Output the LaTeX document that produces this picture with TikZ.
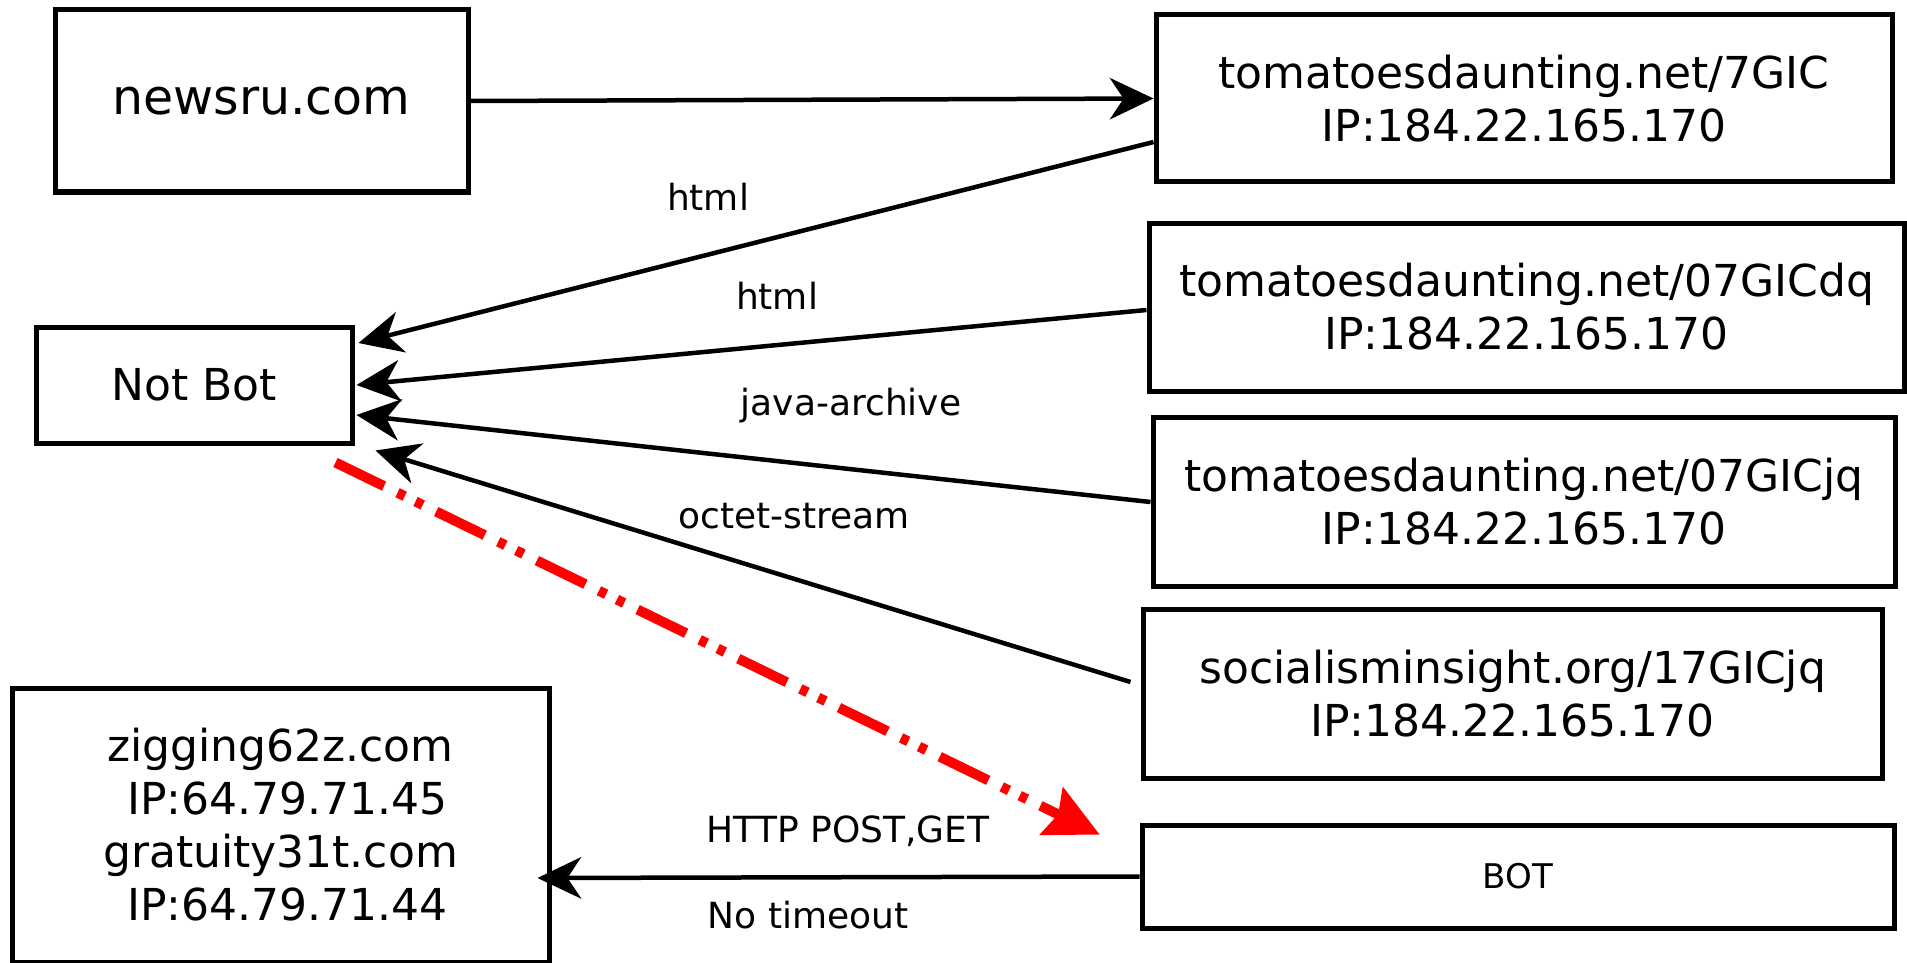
\documentclass[tikz,border=0pt]{standalone}
\usepackage{fontspec}
\setmainfont{DejaVu Sans}
\usetikzlibrary{arrows.meta}
\begin{document}
\begin{tikzpicture}[x=1pt,y=-1pt,
  box/.style={draw, line width=5pt, inner sep=0pt, align=center, font=\fontsize{44}{53}\selectfont},
  lbl/.style={font=\fontsize{36}{43}\selectfont, inner sep=0pt},
  arr/.style={line width=4.5pt, -{Stealth[length=44pt,width=42pt,inset=14pt,line width=0pt]}},
  redarr/.style={draw=red, line width=10pt, dash pattern=on 54pt off 15pt on 8pt off 12pt on 8pt off 15pt, -{Stealth[length=54pt,width=54pt,inset=8pt,line width=0pt]}}]
\useasboundingbox (0,0) rectangle (1907,963);
\node[box, minimum width=413pt, minimum height=182pt, font=\fontsize{49}{58}\selectfont] (newsru) at (261.5,101) {newsru.com};
\node[box, minimum width=736pt, minimum height=167pt] (t1) at (1524,98.5) {tomatoesdaunting.net/7GIC\\IP:184.22.165.170};
\node[box, minimum width=316pt, minimum height=116pt] (notbot) at (194,385) {Not Bot};
\node[box, minimum width=755pt, minimum height=168pt] (t2) at (1526.5,307) {tomatoesdaunting.net/07GICdq\\IP:184.22.165.170};
\node[box, minimum width=742pt, minimum height=169pt] (t3) at (1524,501.5) {tomatoesdaunting.net/07GICjq\\IP:184.22.165.170};
\node[box, minimum width=739pt, minimum height=169pt] (soc) at (1512.5,693.5) {socialisminsight.org/17GICjq\\IP:184.22.165.170};
\node[box, minimum width=537pt, minimum height=274pt] (zig) at (280.5,825) {zigging62z.com\\~IP:64.79.71.45\\gratuity31t.com\\~IP:64.79.71.44};
\node[box, minimum width=752pt, minimum height=103pt, font=\fontsize{34}{41}\selectfont] (bot) at (1518,876.5) {BOT};

\draw[arr] (newsru.east) -- (t1.west);
\draw[arr] ([yshift=-43.5pt]t1.west) -- ([xshift=4pt,yshift=42pt]notbot.east);
\draw[arr] ([yshift=-3pt]t2.west) -- ([xshift=2pt]notbot.east);
\draw[arr] ([yshift=-0.5pt]t3.west) -- ([xshift=2pt,yshift=-30pt]notbot.east);
\draw[arr] ([xshift=-10pt,yshift=11.5pt]soc.west) -- ([xshift=21pt,yshift=-5pt]notbot.south east);
\draw[arr] (bot.west) -- ([xshift=-14pt,yshift=-53pt]zig.east);
\draw[redarr] ([xshift=-19pt,yshift=-17pt]notbot.south east) -- ([xshift=-40pt,yshift=-12pt]bot.north west);

\node[lbl] (l1) at (708,197) {html};
\node[lbl] (l2) at (777,296) {html};
\node[lbl] (l3) at (851,406) {java-archive};
\node[lbl] (l4) at (794,516) {octet-stream};
\node[lbl] (l5) at (848,831) {HTTP POST,GET};
\node[lbl] (l6) at (808,915) {No timeout};
\end{tikzpicture}
\end{document}
